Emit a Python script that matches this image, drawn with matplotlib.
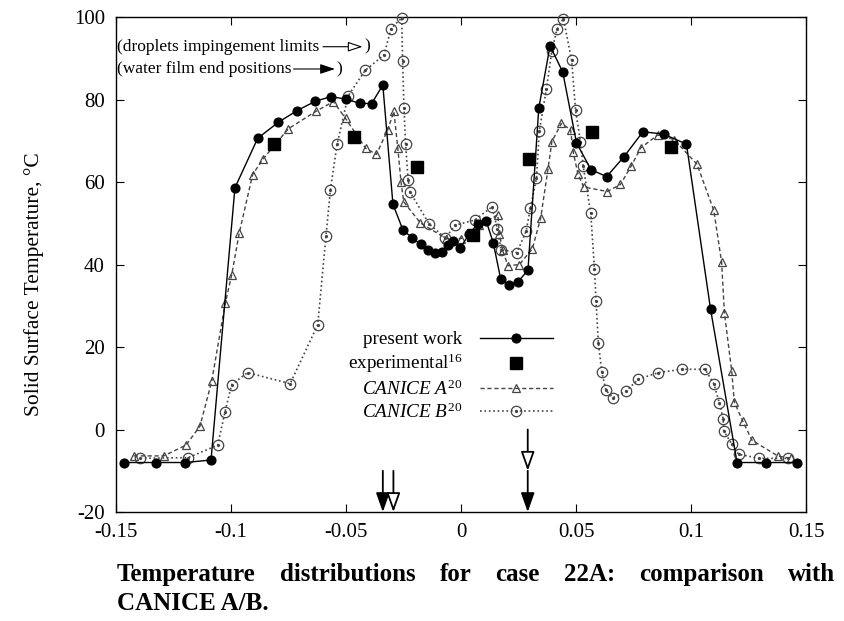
import matplotlib
matplotlib.use("Agg")
import matplotlib.pyplot as plt
from matplotlib.legend_handler import HandlerTuple

plt.rcParams['font.family'] = ['Liberation Serif', 'DejaVu Serif']
plt.rcParams['mathtext.fontset'] = 'custom'
plt.rcParams['mathtext.rm'] = 'Liberation Serif'
plt.rcParams['mathtext.it'] = 'Liberation Serif:italic'
plt.rcParams['axes.unicode_minus'] = False

# present work
pw_x = [-0.1464, -0.1326, -0.1200, -0.1087, -0.0983, -0.0884, -0.0794, -0.0713, -0.0633, -0.0565,
        -0.0502, -0.0440, -0.0389, -0.0340, -0.0296, -0.0252, -0.0212, -0.0176, -0.0143, -0.0112,
        -0.0083, -0.0058, -0.0036, -0.0003, 0.0036, 0.0072, 0.0109, 0.0140, 0.0172, 0.0208,
        0.0247, 0.0291, 0.0338, 0.0387, 0.0442, 0.0502, 0.0565, 0.0633, 0.0708, 0.0791,
        0.0881, 0.0980, 0.1085, 0.1200, 0.1325, 0.1460]
pw_y = [-8.0, -8.0, -8.0, -7.4, 58.6, 70.6, 74.5, 77.3, 79.6, 80.7,
        80.1, 79.1, 79.0, 83.5, 54.6, 48.3, 46.5, 44.9, 43.6, 42.9,
        43.1, 44.7, 45.7, 44.0, 47.5, 49.8, 50.6, 45.3, 36.6, 35.0,
        35.8, 38.6, 77.9, 93.0, 86.7, 69.5, 63.0, 61.3, 66.1, 72.2,
        71.6, 69.2, 29.1, -8.0, -8.0, -8.0]

# experimental (ref 16)
exp_x = [-0.0814, -0.0465, -0.0191, 0.0051, 0.0296, 0.0571, 0.0913]
exp_y = [69.2, 70.9, 63.6, 47.2, 65.5, 72.1, 68.4]

# CANICE A
ca_x = [-0.1423, -0.1293, -0.1196, -0.1135, -0.1084, -0.1025, -0.0997, -0.0964, -0.0906, -0.0862,
        -0.0751, -0.0632, -0.0555, -0.0502, -0.0415, -0.0368, -0.0319, -0.0292, -0.0275, -0.0261,
        -0.0249, -0.0177, -0.0065, 0.0000, 0.0080, 0.0160, 0.0167, 0.0181, 0.0204, 0.0254,
        0.0310, 0.0346, 0.0378, 0.0395, 0.0436, 0.0476, 0.0488, 0.0508, 0.0533, 0.0636,
        0.0693, 0.0739, 0.0782, 0.0855, 0.0926, 0.1026, 0.1099, 0.1133, 0.1145, 0.1177,
        0.1188, 0.1225, 0.1265, 0.1377, 0.1435]
ca_y = [-6.4, -6.4, -3.8, 0.8, 11.7, 30.6, 37.5, 47.7, 61.8, 65.5,
        72.9, 77.1, 79.5, 75.4, 68.2, 66.7, 72.6, 77.1, 68.3, 60.0,
        55.2, 50.1, 46.3, 46.3, 49.5, 52.1, 47.3, 43.4, 39.7, 40.0,
        43.8, 51.2, 63.1, 69.8, 74.2, 72.7, 67.2, 62.0, 58.8, 57.7,
        59.4, 63.8, 68.3, 71.4, 70.3, 64.3, 53.1, 40.5, 28.3, 14.1,
        6.7, 2.0, -2.6, -6.4, -7.0]

# CANICE B
cb_x = [-0.1394, -0.1186, -0.1058, -0.1026, -0.0997, -0.0928, -0.0743, -0.0623, -0.0587, -0.0568,
        -0.0539, -0.0491, -0.0416, -0.0335, -0.0304, -0.0258, -0.0254, -0.0248, -0.0241, -0.0230,
        -0.0221, -0.0138, -0.0068, -0.0026, 0.0060, 0.0135, 0.0158, 0.0174, 0.0243, 0.0283,
        0.0302, 0.0328, 0.0340, 0.0371, 0.0395, 0.0417, 0.0445, 0.0481, 0.0498, 0.0519,
        0.0531, 0.0564, 0.0580, 0.0587, 0.0597, 0.0612, 0.0630, 0.0660, 0.0717, 0.0771,
        0.0858, 0.0960, 0.1061, 0.1099, 0.1123, 0.1140, 0.1142, 0.1177, 0.1207, 0.1297,
        0.1420]
cb_y = [-7.0, -6.8, -3.8, 4.3, 10.9, 13.8, 11.1, 25.4, 47.0, 58.1,
        69.1, 80.9, 87.1, 90.8, 97.2, 99.8, 89.3, 77.9, 69.1, 60.5,
        57.5, 49.8, 46.4, 49.5, 50.8, 54.0, 48.6, 43.6, 42.9, 48.1,
        53.8, 60.9, 72.3, 82.5, 91.8, 97.0, 99.6, 89.5, 77.4, 69.8,
        63.9, 52.4, 39.0, 31.1, 21.0, 13.9, 9.5, 7.7, 9.3, 12.2,
        13.8, 14.6, 14.6, 11.1, 6.5, 2.5, -0.3, -3.5, -6.0, -7.0,
        -7.0]

# arrows at the bottom
film_end_x = [-0.034, 0.029]
drop_limit_x = [-0.0294, 0.029]

caption1 = 'Temperature distributions for case 22A: comparison with'
caption2 = 'CANICE A/B.'

fig = plt.figure(figsize=(8.45, 6.21), dpi=100)
ax = fig.add_axes([0.1373, 0.1755, 0.8166, 0.7971])

grey = '#444444'
l_pw, = ax.plot(pw_x, pw_y, '-', color='k', lw=1.0, marker='o', ms=6.3,
                mfc='k', mec='k', clip_on=False, zorder=5)
l_exp, = ax.plot(exp_x, exp_y, ls='none', marker='s', ms=9, color='k', zorder=6)
l_ca, = ax.plot(ca_x, ca_y, '--', color=grey, lw=1.0, dashes=(3, 2), marker='^', ms=6.3,
                mfc='none', mec=grey, mew=0.9, clip_on=False, zorder=4)
l_cb, = ax.plot(cb_x, cb_y, ':', color=grey, lw=1.2, marker='o', ms=7.5,
                mfc='none', mec=grey, mew=0.9, clip_on=False, zorder=3)
l_cbd, = ax.plot(cb_x, cb_y, ls='none', marker='o', ms=1.3, color=grey,
                 clip_on=False, zorder=3)

arrow_kw = dict(arrowstyle='-|>,head_length=0.9,head_width=0.32',
                ec='k', lw=1.3, shrinkA=0, shrinkB=0, mutation_scale=13)

# water film end positions (filled heads)
for x in film_end_x:
    ax.annotate('', xy=(x, -20), xytext=(x, -10),
                arrowprops=dict(fc='k', **arrow_kw))
# droplets impingement limits (hollow heads)
for x in drop_limit_x:
    if x < 0:
        ax.annotate('', xy=(x, -20), xytext=(x, -10),
                    arrowprops=dict(fc='white', **arrow_kw))
    else:
        ax.annotate('', xy=(x, -10), xytext=(x, 0),
                    arrowprops=dict(fc='white', **arrow_kw))

small_kw = dict(arrowstyle='-|>,head_length=0.9,head_width=0.3',
                ec='k', lw=0.8, shrinkA=0, shrinkB=0, mutation_scale=10)
ax.text(-0.1495, 92.8, '(droplets impingement limits', fontsize=12.5, va='center', ha='left')
ax.annotate('', xy=(-0.0428, 92.8), xytext=(-0.0600, 92.8),
            arrowprops=dict(fc='white', **small_kw))
ax.text(-0.0422, 92.8, ')', fontsize=12.5, va='center', ha='left')
ax.text(-0.1495, 87.4, '(water film end positions', fontsize=12.5, va='center', ha='left')
ax.annotate('', xy=(-0.0548, 87.4), xytext=(-0.0728, 87.4),
            arrowprops=dict(fc='k', **small_kw))
ax.text(-0.0540, 87.4, ')', fontsize=12.5, va='center', ha='left')

ax.set_xlim(-0.15, 0.15)
ax.set_ylim(-20, 100)
ax.set_xticks([-0.15, -0.1, -0.05, 0, 0.05, 0.1, 0.15])
ax.set_xticklabels(['-0.15', '-0.1', '-0.05', '0', '0.05', '0.1', '0.15'])
ax.set_yticks([-20, 0, 20, 40, 60, 80, 100])
ax.tick_params(direction='in', length=6, top=True, right=True, labelsize=15, pad=8)
for s in ax.spines.values():
    s.set_linewidth(1.0)
ax.set_ylabel('Solid Surface Temperature, \u00b0C', fontsize=15.5)
ax.yaxis.set_label_coords(-0.105, 0.46)

ax.legend([l_pw, l_exp, l_ca, (l_cb, l_cbd)],
          ['present work', r'experimental$^{16}$', r'$\mathit{CANICE\ A}^{20}$',
           r'$\mathit{CANICE\ B}^{20}$'],
          handler_map={tuple: HandlerTuple(ndivide=1)},
          loc='upper right', bbox_to_anchor=(0.633, 0.366), frameon=False,
          markerfirst=False, numpoints=1, fontsize=13.8, handlelength=3.8,
          handletextpad=0.9, labelspacing=0.2, borderpad=0, borderaxespad=0)

# caption, first line justified between x=117 and x=835 px
renderer = fig.canvas.get_renderer()
words = caption1.split()
y1 = 1 - 581 / 621
parts = [fig.text(0, y1, w, fontsize=18, fontweight='bold', va='baseline', ha='left')
         for w in words]
widths = [p.get_window_extent(renderer).width for p in parts]
left, right = 117.0, 835.0
gap = (right - left - sum(widths)) / (len(words) - 1)
xpos = left
for p, w in zip(parts, widths):
    p.set_x(xpos / 845)
    xpos += w + gap
fig.text(117 / 845, 1 - 610 / 621, caption2,
         fontsize=18, fontweight='bold', va='baseline', ha='left')

fig.savefig('out.png', dpi=100)
